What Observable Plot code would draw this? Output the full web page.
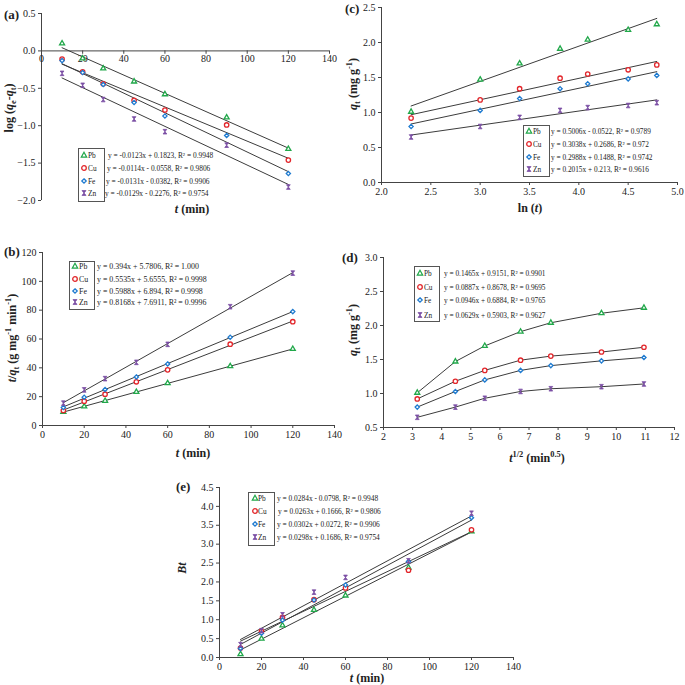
<!DOCTYPE html>
<html><head><meta charset="utf-8">
<script src="https://cdn.jsdelivr.net/npm/d3@7"></script>
<script src="https://cdn.jsdelivr.net/npm/@observablehq/plot@0.6"></script>
<style>
body{margin:0;background:#fff;}
#fig{position:relative;width:685px;height:685px;font-family:"Liberation Serif","Times New Roman",serif;color:#222;overflow:hidden;background:#fff}
.t{position:absolute;white-space:nowrap;transform:translate(-50%,-50%);font-weight:bold;font-size:12px}
.ty{position:absolute;white-space:nowrap;transform:translate(-50%,-50%) rotate(-90deg);font-weight:bold;font-size:12px}
.pl{position:absolute;font-weight:bold;font-size:13px;transform:translate(0,-50%)}
.box{position:absolute;border:1px solid #555;background:#fff}
.eq{position:absolute;white-space:nowrap;transform:translate(0,-50%)}
.li{position:absolute;white-space:nowrap;transform:translate(0,-50%)}
.mk{position:absolute;transform:translate(-50%,-50%)}
sub,sup{font-size:70%;line-height:0}
</style>
</head><body><div id="fig"></div>
<script>
// ---------- data ----------
const metals = ["Pb","Cu","Fe","Zn"];
const tMin  = [10,20,30,45,60,90,120];
const lnT   = [2.30,3.00,3.40,3.81,4.09,4.50,4.79];
const sqrtT = [3.16,4.47,5.48,6.71,7.75,9.49,10.95];

// (a) pseudo-first-order: log(qe-qt)
const logPb = [0.10,-0.10,-0.235,-0.41,-0.58,-0.89,-1.31];
const logCu = [-0.11,-0.28,-0.44,-0.66,-0.79,-0.99,-1.46];
const logFe = [-0.13,-0.29,-0.45,-0.69,-0.87,-1.13,-1.64];
const logZn = [-0.30,-0.46,-0.65,-0.91,-1.08,-1.26,-1.82];
// (b) pseudo-second-order: t/qt
const tqPb = [9.5,13.2,17.1,23.3,29.3,41.1,53.1];
const tqCu = [10.4,16.9,21.7,30.3,38.6,56.4,72.0];
const tqFe = [12.5,19.6,25.0,33.7,42.7,61.2,79.0];
const tqZn = [15.5,24.7,32.5,43.8,56.3,82.4,105.7];
// (c),(d) qt
const qtPb = [1.01,1.47,1.70,1.91,2.04,2.18,2.26];
const qtCu = [0.92,1.18,1.34,1.49,1.55,1.61,1.68];
const qtFe = [0.80,1.03,1.20,1.34,1.41,1.48,1.53];
const qtZn = [0.65,0.80,0.93,1.03,1.07,1.10,1.14];
// (e) Bt
const btPb = [0.09,0.50,0.85,1.26,1.64,2.38,3.34];
const btCu = [0.25,0.69,1.06,1.53,1.84,2.31,3.38];
const btFe = [0.24,0.64,0.99,1.52,1.92,2.54,3.70];
const btZn = [0.34,0.71,1.13,1.73,2.12,2.56,3.82];

// equations (legend text)
const eqA = ["y = -0.0123x + 0.1823, R² = 0.9948","y = -0.0114x - 0.0558, R² = 0.9806","y = -0.0131x - 0.0382, R² = 0.9906","y = -0.0129x - 0.2276, R² = 0.9754"];
const eqB = ["y = 0.394x + 5.7806, R² = 1.000","y = 0.5535x + 5.6555, R² = 0.9998","y = 0.5988x + 6.894, R² = 0.9998","y = 0.8168x + 7.6911, R² = 0.9996"];
const eqC = ["y = 0.5006x - 0.0522, R² = 0.9789","y = 0.3038x + 0.2686, R² = 0.972","y = 0.2988x + 0.1488, R² = 0.9742","y = 0.2015x + 0.213, R² = 0.9616"];
const eqD = ["y = 0.1465x + 0.9151, R² = 0.9901","y = 0.0887x + 0.8678, R² = 0.9695","y = 0.0946x + 0.6884, R² = 0.9765","y = 0.0629x + 0.5903, R² = 0.9627"];
const eqE = ["y = 0.0284x - 0.0798, R² = 0.9948","y = 0.0263x + 0.1666, R² = 0.9806","y = 0.0302x + 0.0272, R² = 0.9906","y = 0.0298x + 0.1686, R² = 0.9754"];

// ticks
const ticksT   = [0,20,40,60,80,100,120,140];
const ticksA_y = [0.5,0.0,-0.5,-1.0,-1.5,-2.0];
const ticksB_y = [0,20,40,60,80,100,120];
const ticksC_x = [2.0,2.5,3.0,3.5,4.0,4.5,5.0];
const ticksC_y = [0.0,0.5,1.0,1.5,2.0,2.5];
const ticksD_x = [2,3,4,5,6,7,8,9,10,11,12];
const ticksD_y = [0.5,1.0,1.5,2.0,2.5,3.0];
const ticksE_y = [0.0,0.5,1.0,1.5,2.0,2.5,3.0,3.5,4.0,4.5];

// ---------- styling ----------
const colors = {Pb:"#21a84a", Cu:"#e2262b", Fe:"#1f7bd0", Zn:"#7b4fa4"};
const hourglass = {draw(ctx, size){ const r=Math.sqrt(size/Math.PI); const w=r*0.9,h=r*1.1;
  ctx.moveTo(-w,-h); ctx.lineTo(w,-h); ctx.lineTo(-w,h); ctx.lineTo(w,h); ctx.closePath(); }};
const symbols = {Pb:"triangle2", Cu:"circle", Fe:"diamond2", Zn:hourglass};
const radii = {Pb:2.4, Cu:2.2, Fe:1.9, Zn:2.1};
const fig = document.getElementById("fig");
const f1 = d3.format(".1f");

function rows(xs, s) {
  return metals.flatMap((m,i) => xs.map((x,j) => ({metal:m, x, y:s[i][j]})));
}
function seriesMarks(data, kind) {
  const m = [];
  if (kind === "reg") m.push(Plot.linearRegressionY(data, {x:"x", y:"y", z:"metal", stroke:"#3c3c3c", strokeWidth:1, ci:0}));
  else m.push(Plot.line(data, {x:"x", y:"y", z:"metal", stroke:"#3c3c3c", strokeWidth:1}));
  for (const k of metals) m.push(Plot.dot(data.filter(d=>d.metal===k), {x:"x", y:"y", symbol:symbols[k], r:radii[k],
    stroke:colors[k], fill: k==="Zn" ? colors[k] : "white", strokeWidth: k==="Zn" ? 0.8 : 1.3}));
  return m;
}
function place(svg, left, top) {
  svg.style.position="absolute"; svg.style.left=left+"px"; svg.style.top=top+"px"; svg.style.maxWidth="none";
  fig.appendChild(svg);
}
const baseStyle = {fontFamily:"'Liberation Serif','Times New Roman',serif", fontSize:"10px", color:"#222", background:"transparent", overflow:"visible"};

function stdPanel(c) {
  const svg = Plot.plot({
    width:c.w, height:c.h, marginLeft:c.ml, marginRight:c.mr, marginTop:c.mt, marginBottom:c.mb,
    style: baseStyle,
    x:{domain:c.xd, label:null}, y:{domain:c.yd, label:null},
    marks:[
      Plot.axisX({ticks:c.xt, tickSize:3, tickPadding:2, tickFormat:c.xf, label:null, stroke:"#444"}),
      Plot.axisY({ticks:c.yt, tickSize:3, tickPadding:3, tickFormat:c.yf, label:null, stroke:"#444"}),
      Plot.ruleX([c.xd[0]], {stroke:"#444"}),
      Plot.ruleY([c.yd[0]], {stroke:"#444"}),
      ...seriesMarks(c.data, c.kind)
    ]
  });
  place(svg, c.left, c.top);
}

// ---------- panel (a) ----------
{
  const data = rows(tMin, [logPb,logCu,logFe,logZn]);
  const svg = Plot.plot({
    width:340, height:225, marginLeft:41, marginRight:11, marginTop:13, marginBottom:25,
    style: baseStyle,
    x:{domain:[0,140], axis:null, label:null}, y:{domain:[-2,0.5], label:null},
    marks:[
      Plot.axisY({ticks:ticksA_y, tickSize:3, tickPadding:3, tickFormat:f1, label:null, stroke:"#444"}),
      Plot.ruleX([0], {stroke:"#444"}),
      Plot.ruleY([0], {stroke:"#444"}),
      Plot.ruleX(ticksT, {x:d=>d, y1:0, y2:-0.045, stroke:"#444"}),
      Plot.text(ticksT, {x:d=>d, y:0, dy:8, text:d=>String(d), fontSize:10}),
      ...seriesMarks(data, "reg")
    ]
  });
  place(svg, 0, 0);
}
// ---------- panel (b) ----------
stdPanel({left:0, top:240, w:340, h:205, ml:42, mr:6, mt:12, mb:20, xd:[0,140], yd:[0,120],
  xt:ticksT, yt:ticksB_y, xf:d=>String(d), yf:d=>String(d), data:rows(tMin,[tqPb,tqCu,tqFe,tqZn]), kind:"reg"});
// ---------- panel (c) ----------
stdPanel({left:340, top:0, w:345, h:200, ml:41, mr:8, mt:7, mb:18, xd:[2,5], yd:[0,2.5],
  xt:ticksC_x, yt:ticksC_y, xf:f1, yf:f1, data:rows(lnT,[qtPb,qtCu,qtFe,qtZn]), kind:"reg"});
// ---------- panel (d) ----------
stdPanel({left:340, top:240, w:345, h:210, ml:43, mr:11, mt:17, mb:23, xd:[2,12], yd:[0.5,3],
  xt:ticksD_x, yt:ticksD_y, xf:d=>String(d), yf:f1, data:rows(sqrtT,[qtPb,qtCu,qtFe,qtZn]), kind:"line"});
// ---------- panel (e) ----------
stdPanel({left:170, top:460, w:360, h:215, ml:49, mr:17, mt:27, mb:18, xd:[0,140], yd:[0,4.5],
  xt:ticksT, yt:ticksE_y, xf:d=>String(d), yf:f1, data:rows(tMin,[btPb,btCu,btFe,btZn]), kind:"reg"});

// ---------- text ----------
function txt(html, x, y, cls, extra) {
  const d=document.createElement("div"); d.className=cls; d.style.left=x+"px"; d.style.top=y+"px"; d.innerHTML=html;
  if (extra) Object.assign(d.style, extra);
  fig.appendChild(d);
}
txt("(a)", 4, 15, "pl");
txt("log (<i>q</i><sub>e</sub>-<i>q</i><sub>t</sub>)", 9, 108, "ty");
txt("<i>t</i> (min)", 192, 209, "t");
txt("(c)", 345, 9, "pl");
txt("<i>q</i><sub>t</sub> (mg g<sup>-1</sup>)", 353, 84, "ty");
txt("ln (<i>t</i>)", 530, 208, "t");
txt("(b)", 4, 252, "pl");
txt("<i>t</i>/<i>q</i><sub>t</sub> (g mg<sup>-1</sup> min<sup>-1</sup>)", 12, 338, "ty");
txt("<i>t</i> (min)", 193, 453, "t");
txt("(d)", 342, 258, "pl");
txt("<i>q</i><sub>t</sub> (mg g<sup>-1</sup>)", 353, 330, "ty");
txt("<i>t</i><sup>1/2</sup> (min<sup>0.5</sup>)", 537, 458, "t");
txt("(e)", 176, 487, "pl");
txt("<i>Bt</i>", 182, 568, "ty");
txt("<i>t</i> (min)", 367, 678, "t");

// ---------- legends ----------
function markerSvg(m) {
  const c = colors[m];
  let shape;
  if (m==="Pb") shape = `<path d="M4,1.3L6.7,6.1L1.3,6.1Z" fill="white" stroke="${c}" stroke-width="1.2"/>`;
  else if (m==="Cu") shape = `<circle cx="4" cy="4" r="2.3" fill="white" stroke="${c}" stroke-width="1.3"/>`;
  else if (m==="Fe") shape = `<path d="M4,1.8L6.2,4L4,6.2L1.8,4Z" fill="white" stroke="${c}" stroke-width="1.3"/>`;
  else shape = `<path d="M2,1.6L6,1.6L2,6.4L6,6.4Z" fill="${c}" stroke="${c}" stroke-width="0.8"/>`;
  return `<svg width="8" height="8" viewBox="0 0 8 8">${shape}</svg>`;
}
const legends = [
  {eq:eqA, box:[78,148,25,52], rows:[155,167.5,180.5,193], mx:84, lx:88, ex:[108,107,106,105], fs:7.4},
  {eq:eqB, box:[69,261,24,47], rows:[266,279,291,302], mx:75, lx:79, ex:[97,97,97,97], fs:7.9},
  {eq:eqC, box:[523,125,25,50], rows:[131,144,157,169], mx:529, lx:533, ex:[551,551,551,551], fs:7.3},
  {eq:eqD, box:[414,266,24,54], rows:[273,287,300,315], mx:420, lx:424, ex:[444,444,444,444], fs:7.3},
  {eq:eqE, box:[248,492,25,52], rows:[498,511,524,537], mx:255, lx:258, ex:[277,278,277,277], fs:7.4}
];
for (const L of legends) {
  const b=document.createElement("div"); b.className="box";
  Object.assign(b.style,{left:L.box[0]+"px", top:L.box[1]+"px", width:L.box[2]+"px", height:L.box[3]+"px"});
  fig.appendChild(b);
  metals.forEach((m,i) => {
    txt(markerSvg(m), L.mx, L.rows[i], "mk", {lineHeight:"0"});
    txt(m, L.lx, L.rows[i], "li", {fontSize:L.fs+"px"});
    txt(L.eq[i], L.ex[i], L.rows[i], "eq", {fontSize:L.fs+"px"});
  });
}
</script>
</body></html>
